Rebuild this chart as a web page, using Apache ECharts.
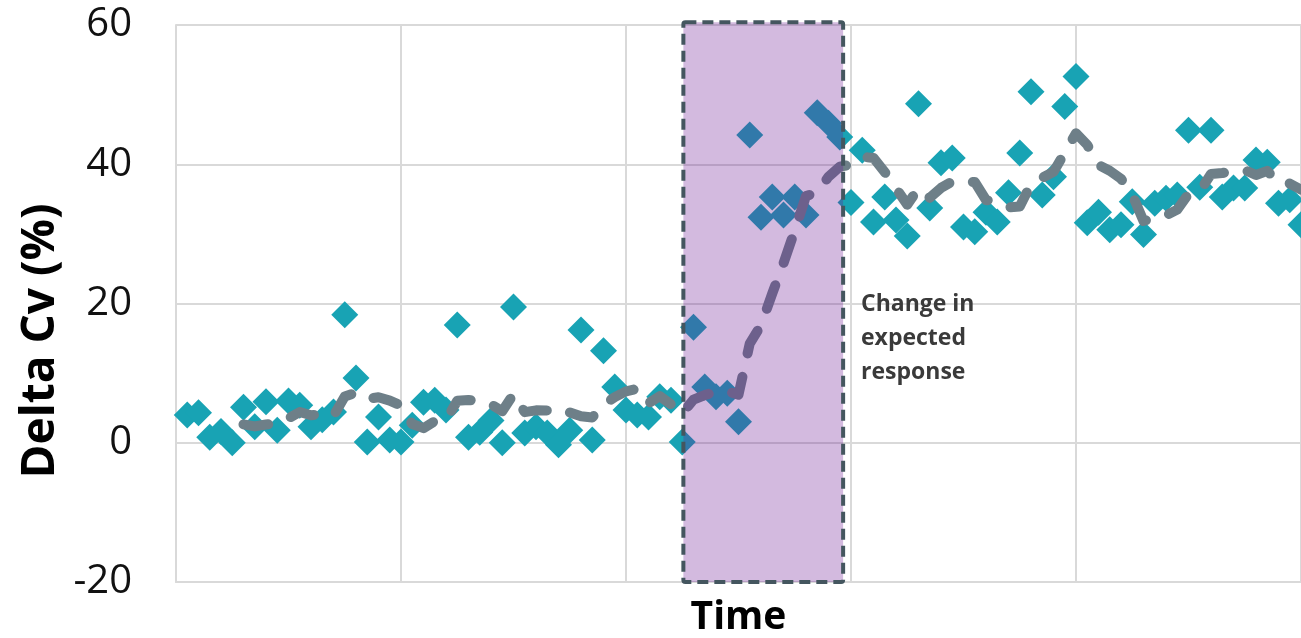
<!DOCTYPE html>
<html>
<head>
<meta charset="utf-8">
<script src="https://cdn.jsdelivr.net/npm/echarts@6/dist/echarts.min.js"></script>
<style>
html,body{margin:0;padding:0;background:#fff;}
#chart{width:1301px;height:638px;}
</style>
</head>
<body>
<div id="chart"></div>
<script>
const timeIdx = [];
for (let i = 1; i <= 100; i++) timeIdx.push(i);
const deltaCv = [
  4.0, 4.3, 0.8, 1.6, 0.0, 5.1, 2.3, 5.9, 1.8, 6.0,
  5.4, 2.3, 3.3, 4.4, 18.4, 9.3, 0.1, 3.7, 0.4, 0.1,
  2.5, 5.8, 6.1, 4.7, 16.9, 0.8, 1.5, 3.2, 0.0, 19.5,
  1.4, 2.3, 1.4, -0.3, 1.8, 16.2, 0.4, 13.2, 8.0, 4.7,
  4.0, 3.7, 6.6, 6.1, 0.1, 16.6, 8.0, 6.6, 7.1, 3.0,
  44.2, 32.4, 35.3, 32.7, 35.3, 32.7, 47.4, 45.9, 43.9, 34.5,
  42.0, 31.7, 35.3, 32.0, 29.7, 48.7, 33.7, 40.2, 40.9, 31.0,
  30.3, 33.1, 31.7, 35.9, 41.6, 50.4, 35.6, 38.2, 48.3, 52.6,
  31.6, 33.1, 30.6, 31.3, 34.6, 29.9, 34.4, 35.1, 35.6, 44.9,
  36.7, 44.9, 35.3, 36.6, 36.6, 40.6, 40.3, 34.4, 34.9, 31.3
];
// Moving-average trendline period (as in the spreadsheet trendline)
const maPeriod = 6;
// Highlighted window: [xStart, xEnd, yBottom, yTop]
const highlight = [45.1, 59.3, -20, 60.4];
const yTicks = { min: -20, max: 60, interval: 20 };
const xRange = { min: 0, max: 100, interval: 20 };
const annotation = 'Change in\nexpected\nresponse';

const points = timeIdx.map((t, i) => [t, deltaCv[i]]);
const trend = [];
for (let i = maPeriod - 1; i < deltaCv.length; i++) {
  let s = 0;
  for (let k = i - maPeriod + 1; k <= i; k++) s += deltaCv[k];
  trend.push([timeIdx[i], s / maPeriod]);
}

const chart = echarts.init(document.getElementById('chart'), null, {renderer: 'canvas'});
const gridColor = '#D9D9D9';
chart.setOption({
  animation: false,
  backgroundColor: '#ffffff',
  grid: { left: 176, top: 25, right: 0, bottom: 56, containLabel: false, outerBoundsMode: 'none' },
  xAxis: {
    type: 'value', min: xRange.min, max: xRange.max, interval: xRange.interval,
    axisLine: { show: true, onZero: false, lineStyle: { color: gridColor, width: 2 } },
    axisTick: { show: false },
    axisLabel: { show: false },
    splitLine: { show: true, lineStyle: { color: gridColor, width: 2 } },
    name: 'Time', nameLocation: 'middle', nameGap: 36,
    nameTextStyle: { fontFamily: 'Open Sans', fontWeight: 'bold', fontSize: 39, color: '#000', verticalAlign: 'middle' }
  },
  yAxis: {
    type: 'value', min: yTicks.min, max: yTicks.max, interval: yTicks.interval,
    axisLine: { show: true, lineStyle: { color: gridColor, width: 2 } },
    axisTick: { show: false },
    axisLabel: { fontFamily: 'Open Sans', fontSize: 40, color: '#111', margin: 44 },
    splitLine: { show: true, lineStyle: { color: gridColor, width: 2 } }
  },
  graphic: [
    {
      type: 'text', x: 41, y: 341, rotation: Math.PI / 2, silent: true,
      style: { text: 'Delta Cv (%)', fontFamily: 'Open Sans', fontWeight: 'bold', fontSize: 46,
               fill: '#000', align: 'center', verticalAlign: 'middle' }
    },
    {
      type: 'text', x: 861, y: 338, silent: true, z: 100,
      style: { text: annotation, fontFamily: 'Open Sans', fontWeight: 'bold', fontSize: 23,
               lineHeight: 34, fill: '#3A3A3A', align: 'left', verticalAlign: 'middle' }
    }
  ],
  series: [
    {
      type: 'scatter', data: points, symbol: 'diamond', symbolSize: 27,
      itemStyle: { color: '#18A3B4', opacity: 1 }, z: 2, silent: true
    },
    {
      type: 'line', data: trend, showSymbol: false, smooth: false, z: 3, silent: true,
      lineStyle: { color: '#6E7F88', width: 10, type: [25, 24], cap: 'round', join: 'round' }
    },
    {
      type: 'custom', z: 10, silent: true, clip: false,
      data: [highlight],
      encode: { x: [0, 1], y: [2, 3] },
      renderItem: function (params, api) {
        const p0 = api.coord([api.value(0), api.value(3)]);
        const p1 = api.coord([api.value(1), api.value(2)]);
        return {
          type: 'rect',
          shape: { x: p0[0], y: p0[1], width: p1[0] - p0[0], height: p1[1] - p0[1], r: 2 },
          style: { fill: 'rgba(108,28,150,0.30)', stroke: '#44565F', lineWidth: 4, lineDash: [11, 6] }
        };
      }
    }
  ]
});
</script>
</body>
</html>
